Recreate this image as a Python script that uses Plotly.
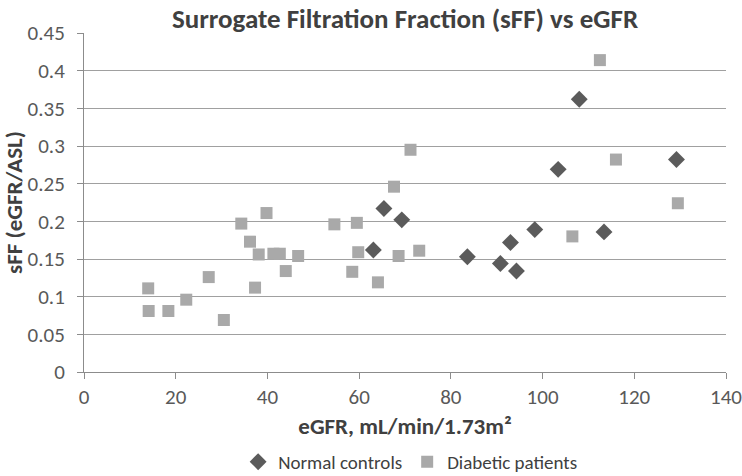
import plotly.graph_objects as go

# Data
normal_x = [63.1, 65.4, 69.3, 83.6, 90.8, 93.0, 94.3, 98.3, 103.4, 108.0, 113.4, 129.2]
normal_y = [0.162, 0.217, 0.202, 0.153, 0.144, 0.172, 0.134, 0.189, 0.269, 0.362, 0.186, 0.282]

diabetic_x = [14.0, 14.1, 18.4, 22.3, 27.2, 30.5, 34.3, 36.2, 37.3, 38.1, 39.8, 41.3, 42.7, 44.0,
              46.7, 54.6, 58.5, 59.5, 59.8, 64.1, 67.6, 68.6, 71.2, 73.1, 106.5, 112.5, 116.0, 129.5]
diabetic_y = [0.111, 0.081, 0.081, 0.096, 0.126, 0.069, 0.197, 0.173, 0.112, 0.156, 0.211, 0.157, 0.157, 0.134,
              0.154, 0.196, 0.133, 0.198, 0.159, 0.119, 0.246, 0.154, 0.295, 0.161, 0.180, 0.414, 0.282, 0.224]

x_ticks = [0, 20, 40, 60, 80, 100, 120, 140]
y_ticks = [0, 0.05, 0.1, 0.15, 0.2, 0.25, 0.3, 0.35, 0.4, 0.45]
y_tick_labels = ["0", "0.05", "0.1", "0.15", "0.2", "0.25", "0.3", "0.35", "0.4", "0.45"]

FONT = "Carlito, Lato, sans-serif"

fig = go.Figure()
fig.add_trace(go.Scatter(
    x=normal_x, y=normal_y, mode="markers", name="Normal controls",
    marker=dict(symbol="diamond", size=13, color="#5b5b5b", line=dict(width=0)),
))
fig.add_trace(go.Scatter(
    x=diabetic_x, y=diabetic_y, mode="markers", name="Diabetic patients",
    marker=dict(symbol="square", size=12, color="#a9a9a9", line=dict(width=0)),
))

fig.update_layout(
    width=742, height=476,
    margin=dict(l=84, r=16, t=33, b=104, autoexpand=False),
    paper_bgcolor="white", plot_bgcolor="white",
    font=dict(family=FONT, color="#595959", size=21),
    title=dict(
        text="<b>Surrogate Filtration Fraction (sFF) vs eGFR</b>",
        x=(84 + 726) / 2 / 742, xanchor="center", y=1 - 19 / 476, yanchor="middle",
        font=dict(family=FONT, size=27, color="#404040"),
    ),
    xaxis=dict(
        range=[0, 140], tickvals=x_ticks, ticktext=[str(v) for v in x_ticks],
        showgrid=False, zeroline=False, automargin=False,
        showline=True, linecolor="#8c8c8c", linewidth=1,
        ticks="outside", ticklen=6, tickcolor="#8c8c8c",
        ticklabelstandoff=0, ticklabeloverflow="allow",
        tickfont=dict(family=FONT, size=21, color="#595959"),
        title=dict(text="<b>eGFR, mL/min/1.73m²</b>", standoff=8,
                   font=dict(family=FONT, size=23, color="#404040")),
    ),
    yaxis=dict(
        range=[0, 0.45], tickvals=y_ticks, ticktext=y_tick_labels,
        showgrid=True, gridcolor="#a0a0a0", gridwidth=1, zeroline=False, automargin=False,
        showline=True, linecolor="#8c8c8c", linewidth=1,
        ticks="outside", ticklen=6, tickcolor="#8c8c8c",
        ticklabelstandoff=8,
        tickfont=dict(family=FONT, size=21, color="#595959"),
        title=dict(text="<b>sFF (eGFR/ASL)</b>", standoff=7,
                   font=dict(family=FONT, size=23, color="#404040")),
    ),
    legend=dict(
        orientation="h", x=0.508, xanchor="center", y=-0.265, yanchor="middle",
        font=dict(family=FONT, size=19, color="#404040"),
        itemwidth=30, bgcolor="rgba(0,0,0,0)",
    ),
    showlegend=True,
)

fig.write_html("out.html", config={"displayModeBar": False},
               post_script="document.body.style.margin='0px';")
